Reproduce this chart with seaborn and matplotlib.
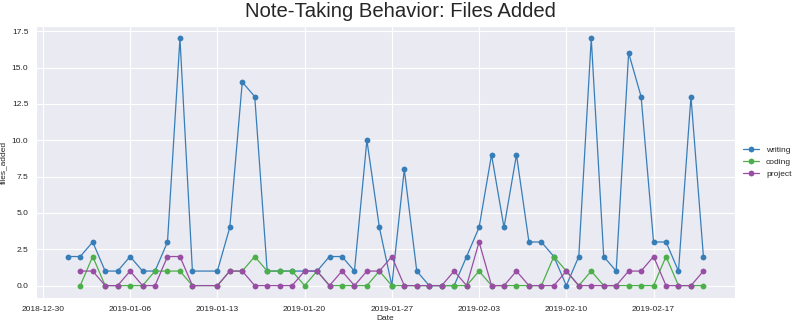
import matplotlib
matplotlib.use("Agg")
import matplotlib.pyplot as plt
import matplotlib.dates as mdates
from matplotlib.lines import Line2D
import seaborn as sns
import pandas as pd

writing_dates = pd.to_datetime(
    ["2019-01-01"] +
    [f"2019-01-{d:02d}" for d in range(2, 12)] +
    [f"2019-01-{d:02d}" for d in range(13, 32)] +
    [f"2019-02-{d:02d}" for d in range(1, 22)]
)
other_dates = writing_dates[1:]

writing = [2, 2, 3, 1, 1, 2, 1, 1, 3, 17, 1,
           1, 4, 14, 13, 1, 1, 1, 1, 1, 2, 2, 1, 10, 4, 0, 8, 1, 0, 0,
           0, 2, 4, 9, 4, 9, 3, 3, 2, 0, 2, 17, 2, 1, 16, 13, 3, 3, 1, 13, 2]
coding = [0, 2, 0, 0, 0, 0, 1, 1, 1, 0,
          0, 1, 1, 2, 1, 1, 1, 0, 1, 0, 0, 0, 0, 1, 0, 0, 0, 0, 0,
          0, 0, 1, 0, 0, 0, 0, 0, 2, 1, 0, 1, 0, 0, 0, 0, 0, 2, 0, 0, 0]
project = [1, 1, 0, 0, 1, 0, 0, 2, 2, 0,
           0, 1, 1, 0, 0, 0, 0, 1, 1, 0, 1, 0, 1, 1, 2, 0, 0, 0, 0,
           1, 0, 3, 0, 0, 1, 0, 0, 0, 1, 0, 0, 0, 0, 1, 1, 2, 0, 0, 0, 1]

categories = ["writing", "coding", "project"]

df = pd.concat([
    pd.DataFrame({"Date": writing_dates, "files_added": writing, "category": "writing"}),
    pd.DataFrame({"Date": other_dates, "files_added": coding, "category": "coding"}),
    pd.DataFrame({"Date": other_dates, "files_added": project, "category": "project"}),
], ignore_index=True)

sns.set_style("darkgrid")
plt.rcParams["font.family"] = ["Liberation Sans", "DejaVu Sans"]

colors = ["#377eb8", "#4daf4a", "#984ea3"]

fig = plt.figure(figsize=(8, 3.26), dpi=100)
ax = fig.add_axes([0.045, 0.086, 0.874, 0.834])

sns.lineplot(data=df, x="Date", y="files_added", hue="category",
             hue_order=categories, palette=colors, marker="o",
             markersize=4.2, markeredgewidth=0, linewidth=0.9, ax=ax,
             legend=False)

ax.xaxis.set_major_locator(mdates.WeekdayLocator(byweekday=mdates.SU))
ax.xaxis.set_major_formatter(mdates.DateFormatter("%Y-%m-%d"))
ax.set_yticks([0, 2.5, 5, 7.5, 10, 12.5, 15, 17.5])
ax.set_yticklabels(["0.0", "2.5", "5.0", "7.5", "10.0", "12.5", "15.0", "17.5"])
ax.tick_params(labelsize=6, pad=2)
ax.set_xlabel("Date", fontsize=6, labelpad=2)
ax.set_ylabel("files_added", fontsize=6, labelpad=3)
fig.suptitle("Note-Taking Behavior: Files Added", fontsize=14.6, y=0.995)

handles = [Line2D([0], [0], color=c, marker="o", markersize=4.2,
                  markeredgewidth=0, linewidth=0.9) for c in colors]
ax.legend(handles, categories, loc="center left", bbox_to_anchor=(1.0, 0.5),
          frameon=False, fontsize=6)

fig.savefig("out.png", dpi=100)
